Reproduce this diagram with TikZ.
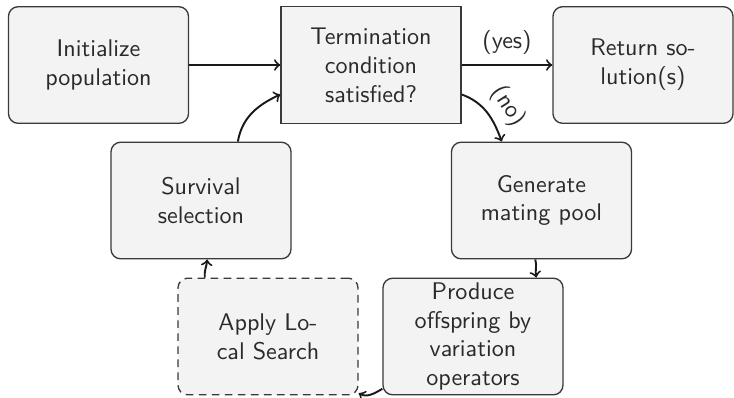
\documentclass[tikz,border=0pt]{standalone}
\usepackage{tikz}
\usetikzlibrary{calc}
\definecolor{boxfill}{HTML}{F3F3F3}
\definecolor{boxline}{HTML}{3A3A3A}
\definecolor{txt}{HTML}{2A2A2A}
\tikzset{
  stepbox/.style={draw=boxline, line width=0.55pt, fill=boxfill, rounded corners=4pt,
    minimum width=74.7pt, minimum height=48.4pt, inner sep=0pt, align=center,
    font=\sffamily, text=txt},
  decbox/.style={stepbox, rounded corners=0pt},
  optbox/.style={stepbox, dashed, dash pattern=on 3.2pt off 2.2pt},
  flow/.style={->, draw=black!90, line width=0.8pt},
  lbl/.style={font=\sffamily, text=txt}
}
\begin{document}
\begin{tikzpicture}[x=0.415pt, y=-0.415pt]
\useasboundingbox (0,0) rectangle (734,397);
\node[stepbox] (init) at (98.5,65) {Initialize\\population};
\node[decbox] (term) at (371,65) {Termination\\condition\\satisfied?};
\node[stepbox] (ret) at (643,65) {Return so-\\lution(s)};
\node[stepbox] (surv) at (201,200.5) {Survival\\selection};
\node[stepbox] (gen) at (541.5,200.5) {Generate\\mating pool};
\node[optbox] (apply) at (268,336.5) {Apply Lo-\\cal Search};
\node[stepbox] (prod) at (473,336.5) {Produce\\offspring by\\variation\\operators};

\draw[flow] (init.east) -- (term.west);
\draw[flow] (term.east) -- node[lbl, above=0.5pt] {(yes)} (ret.west);
\draw[flow] (term.-18) to[out=-20, in=110] node[lbl, sloped, above=0pt, pos=0.6] {(no)} (gen.124);
\draw[flow] (gen.264) to[out=-75, in=100] (prod.43);
\draw[flow] (prod.210) to[out=210, in=-30] (apply.-32);
\draw[flow] (apply.137) to[out=95, in=-95] (surv.-84);
\draw[flow] (surv.58) to[out=80, in=205] (term.198);
\end{tikzpicture}
\end{document}
